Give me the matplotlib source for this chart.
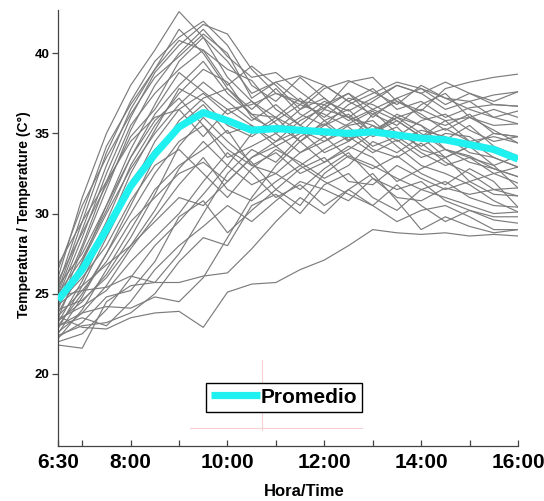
import matplotlib
matplotlib.use("Agg")
import matplotlib.pyplot as plt
from matplotlib.ticker import FixedLocator, FixedFormatter

plt.rcParams['font.family'] = ['Liberation Sans', 'DejaVu Sans']

# time in decimal hours (6:30 .. 16:00 every 30 min)
times = [6.5 + 0.5 * i for i in range(20)]

s01 = [26.0, 31.0, 35.0, 38.0, 40.2, 42.6, 41.0, 39.5, 37.5, 38.2, 37.0, 36.8, 37.5, 36.5, 37.2, 36.0, 35.5, 36.2, 35.0, 34.8]
s02 = [25.2, 29.5, 33.8, 37.0, 39.5, 41.0, 42.0, 40.5, 38.0, 37.0, 38.5, 37.2, 36.0, 37.0, 38.0, 37.5, 36.5, 37.0, 36.0, 35.6]
s03 = [24.8, 28.5, 32.5, 36.0, 38.8, 40.5, 41.8, 41.2, 39.0, 37.5, 36.8, 38.0, 37.0, 36.2, 35.5, 36.8, 37.5, 36.0, 35.2, 34.4]
s04 = [24.0, 27.8, 31.5, 35.2, 38.0, 40.0, 41.5, 39.8, 38.5, 38.8, 37.6, 36.5, 38.2, 38.5, 37.0, 36.4, 37.8, 38.2, 38.5, 38.7]
s05 = [25.5, 30.0, 34.2, 36.8, 39.0, 40.8, 40.2, 38.0, 39.2, 38.0, 36.5, 37.8, 38.3, 37.6, 36.8, 38.0, 37.2, 37.0, 37.4, 37.6]
s06 = [23.5, 27.0, 30.5, 34.0, 36.8, 39.5, 41.0, 38.5, 37.0, 36.0, 37.2, 35.8, 36.5, 35.0, 36.2, 35.5, 34.6, 35.5, 34.2, 33.6]
s07 = [24.5, 28.0, 32.0, 35.5, 37.5, 39.0, 40.2, 39.0, 38.3, 36.5, 35.5, 36.8, 35.8, 36.5, 35.8, 34.8, 35.8, 34.5, 33.5, 32.9]
s08 = [26.5, 30.5, 33.5, 36.2, 38.5, 39.8, 41.2, 40.0, 37.2, 38.2, 38.6, 38.0, 37.0, 37.8, 36.5, 37.0, 36.0, 36.6, 36.8, 36.7]
s09 = [25.0, 29.0, 33.0, 36.5, 39.0, 41.5, 40.0, 37.8, 36.5, 37.8, 36.2, 35.5, 36.8, 37.5, 38.2, 37.8, 37.2, 36.5, 36.0, 36.4]
s10 = [23.8, 26.5, 29.5, 33.0, 35.5, 37.5, 39.0, 38.2, 36.0, 35.2, 36.5, 37.2, 36.0, 35.5, 34.8, 35.8, 36.2, 35.2, 34.5, 34.8]
s11 = [24.2, 27.0, 30.0, 32.8, 35.0, 36.8, 38.2, 37.0, 35.8, 36.8, 35.5, 34.8, 35.6, 36.4, 35.0, 34.2, 35.0, 34.8, 33.8, 33.6]
s12 = [22.8, 25.5, 28.5, 31.5, 34.5, 36.5, 37.5, 36.2, 37.0, 35.6, 34.5, 35.8, 34.6, 35.2, 36.0, 35.0, 34.0, 33.2, 32.8, 32.3]
s13 = [23.2, 25.8, 29.0, 32.5, 35.2, 37.8, 37.0, 35.5, 34.8, 35.8, 36.8, 36.2, 35.4, 34.2, 34.8, 33.8, 33.0, 33.5, 32.5, 31.9]
s14 = [25.8, 28.8, 31.8, 34.8, 36.5, 38.8, 37.6, 36.5, 36.8, 37.5, 37.0, 36.0, 37.2, 36.8, 36.0, 36.5, 35.8, 36.0, 35.5, 35.6]
s15 = [22.5, 24.8, 27.5, 30.5, 33.5, 35.8, 37.2, 37.8, 36.2, 36.0, 35.2, 34.5, 35.5, 35.8, 34.5, 35.2, 34.8, 33.8, 33.5, 32.9]
s16 = [24.6, 26.8, 29.2, 32.0, 34.0, 35.5, 36.8, 35.0, 35.5, 34.2, 35.0, 36.5, 36.0, 34.8, 35.4, 34.0, 33.5, 34.2, 33.0, 31.6]
s17 = [23.0, 25.0, 27.5, 30.0, 32.5, 34.5, 35.5, 33.5, 34.2, 35.0, 33.8, 34.5, 35.2, 34.0, 33.5, 34.4, 33.2, 32.5, 31.5, 31.1]
s18 = [22.2, 24.0, 26.5, 29.0, 31.5, 33.0, 34.0, 35.2, 33.0, 32.5, 33.8, 34.8, 33.5, 32.8, 33.6, 32.5, 31.8, 32.8, 32.0, 30.4]
s19 = [23.6, 25.2, 27.0, 29.5, 31.0, 32.5, 33.2, 32.0, 33.5, 34.5, 35.2, 33.8, 34.5, 35.5, 34.2, 33.0, 32.5, 31.8, 30.8, 30.1]
s20 = [24.0, 24.6, 26.0, 28.0, 30.2, 32.8, 34.5, 33.0, 31.8, 32.5, 31.5, 32.8, 33.8, 32.2, 31.5, 32.0, 30.8, 30.2, 29.8, 29.8]
s21 = [22.6, 23.8, 25.5, 27.8, 29.8, 31.8, 33.5, 31.5, 30.8, 32.0, 33.0, 32.0, 31.2, 30.5, 31.8, 30.5, 29.5, 30.2, 29.6, 29.4]
s22 = [23.4, 24.2, 25.2, 27.0, 28.5, 30.0, 32.0, 33.8, 32.5, 31.0, 31.8, 30.5, 31.5, 32.5, 30.8, 29.0, 29.8, 29.2, 28.8, 29.0]
s23 = [24.3, 25.5, 26.8, 28.0, 29.5, 31.0, 30.5, 32.0, 33.5, 34.2, 33.0, 34.0, 34.8, 33.8, 34.6, 33.5, 34.0, 33.6, 32.8, 32.3]
s24 = [22.0, 22.5, 24.0, 26.0, 28.0, 29.5, 31.2, 33.0, 35.0, 36.0, 34.5, 35.5, 36.2, 35.0, 35.8, 34.8, 35.3, 34.5, 34.8, 34.4]
s25 = [23.6, 22.9, 22.8, 23.5, 23.8, 23.9, 22.9, 25.1, 25.6, 25.7, 26.5, 27.1, 28.0, 29.0, 28.8, 28.7, 28.8, 28.6, 28.7, 28.6]
s26 = [21.8, 21.6, 24.5, 25.5, 25.7, 25.7, 26.1, 26.3, 27.8, 29.5, 31.0, 30.0, 31.5, 30.5, 29.5, 30.2, 30.5, 29.8, 29.0, 29.0]
s27 = [22.4, 23.0, 23.2, 23.8, 25.0, 27.0, 28.5, 28.0, 30.5, 31.2, 30.0, 31.8, 32.5, 31.0, 30.2, 31.5, 31.0, 30.5, 30.0, 30.1]
s28 = [23.0, 23.5, 23.0, 24.5, 26.5, 28.0, 29.2, 30.5, 29.5, 30.8, 32.0, 31.5, 30.8, 32.2, 31.0, 30.8, 31.6, 31.2, 31.5, 31.6]
s29 = [22.3, 23.2, 24.8, 25.2, 27.0, 29.8, 30.8, 28.8, 30.2, 31.5, 32.8, 33.5, 32.0, 31.8, 33.0, 32.2, 31.5, 32.0, 32.5, 32.9]
s30 = [23.0, 23.8, 24.2, 24.1, 24.8, 24.5, 26.0, 28.5, 31.0, 33.0, 34.5, 33.2, 34.0, 35.0, 36.0, 35.5, 34.0, 33.5, 33.0, 33.6]
s31 = [24.8, 25.2, 25.4, 26.1, 25.7, 27.5, 30.0, 32.5, 34.0, 33.2, 34.8, 35.6, 34.5, 36.2, 37.0, 36.2, 35.2, 36.0, 36.5, 36.0]
s32 = [25.5, 27.5, 30.5, 33.5, 35.8, 37.2, 35.5, 34.0, 33.0, 33.8, 32.5, 33.2, 34.2, 33.5, 32.0, 32.8, 33.5, 32.0, 31.2, 31.1]
s33 = [26.8, 29.5, 32.0, 34.5, 36.0, 36.5, 34.8, 36.5, 35.5, 34.5, 35.8, 36.6, 37.5, 36.0, 37.2, 37.8, 36.8, 37.5, 37.0, 37.6]
s34 = [24.4, 26.0, 28.0, 30.8, 33.0, 34.0, 32.5, 31.0, 32.8, 34.0, 33.2, 32.2, 33.0, 34.5, 33.8, 34.8, 33.5, 34.2, 35.0, 34.8]
s35 = [23.3, 24.5, 26.2, 28.5, 31.2, 34.2, 36.0, 34.5, 33.2, 31.5, 30.5, 32.5, 33.6, 33.0, 32.2, 31.5, 32.0, 31.0, 30.5, 30.4]
s36 = [25.0, 27.2, 30.2, 33.5, 36.2, 38.0, 39.5, 37.5, 36.2, 35.0, 36.0, 37.0, 36.4, 37.2, 38.0, 37.5, 38.2, 37.5, 36.8, 36.7]

series = [s01, s02, s03, s04, s05, s06, s07, s08, s09, s10, s11, s12,
          s13, s14, s15, s16, s17, s18, s19, s20, s21, s22, s23, s24,
          s25, s26, s27, s28, s29, s30, s31, s32, s33, s34, s35, s36]

promedio = [24.6, 26.5, 29.0, 31.7, 33.7, 35.4, 36.3, 35.8, 35.2, 35.3, 35.2,
            35.1, 35.0, 35.1, 34.9, 34.7, 34.6, 34.3, 34.0, 33.4]

major_ticks = [6.5, 8, 10, 12, 14, 16]
major_labels = ['6:30', '8:00', '10:00', '12:00', '14:00', '16:00']
minor_ticks = [7, 9, 11, 13, 15]
y_ticks = [20, 25, 30, 35, 40]

fig = plt.figure(figsize=(5.44, 5.01), dpi=100)
ax = fig.add_axes([58/544, 1-446/501, 460/544, 436/501])

for s in series:
    ax.plot(times, s, color='#7c7c7c', lw=0.85, solid_joinstyle='miter')

ax.plot(times, promedio, color='#1ff0f0', lw=5.2, label='Promedio',
        solid_joinstyle='round', solid_capstyle='butt', zorder=5)

# faint crosshair artefact near the legend
ax.plot([0.4435, 0.4435], [0.037, 0.197], transform=ax.transAxes,
        color='#f6d0d0', lw=0.8, zorder=1)
ax.plot([0.287, 0.661], [0.041, 0.041], transform=ax.transAxes,
        color='#f6d0d0', lw=0.8, zorder=1)

ax.set_xlim(6.5, 16)
ax.set_ylim(15.5, 42.7)

ax.xaxis.set_major_locator(FixedLocator(major_ticks))
ax.xaxis.set_major_formatter(FixedFormatter(major_labels))
ax.xaxis.set_minor_locator(FixedLocator(minor_ticks))
ax.set_yticks(y_ticks)

for sp in ['top', 'right']:
    ax.spines[sp].set_visible(False)
for sp in ['left', 'bottom']:
    ax.spines[sp].set_color('#444444')
    ax.spines[sp].set_linewidth(0.9)

ax.tick_params(axis='x', which='both', direction='in', length=4, width=0.9,
               color='#444444', pad=5)
ax.tick_params(axis='x', which='major', labelsize=15)
ax.tick_params(axis='y', direction='out', length=4, width=0.9,
               color='#444444', pad=2, labelsize=9.5)
for lab in ax.get_xticklabels() + ax.get_yticklabels():
    lab.set_fontweight('bold')

ax.set_ylabel('Temperatura / Temperature (C°)', fontsize=10, fontweight='bold')
ax.yaxis.set_label_coords(-0.058, 0.53)
ax.set_xlabel('Hora/Time', fontsize=12, fontweight='bold')
ax.xaxis.set_label_coords(0.536, -0.088)

leg = ax.legend(loc='lower left', bbox_to_anchor=(0.322, 0.078),
                prop={'weight': 'bold', 'size': 15},
                frameon=True, fancybox=False, edgecolor='black',
                framealpha=1.0,
                borderpad=0.25, handlelength=2.35, handletextpad=0.0,
                borderaxespad=0)
leg.get_frame().set_linewidth(1.0)
leg.set_zorder(10)

fig.savefig('out.png', dpi=100)
